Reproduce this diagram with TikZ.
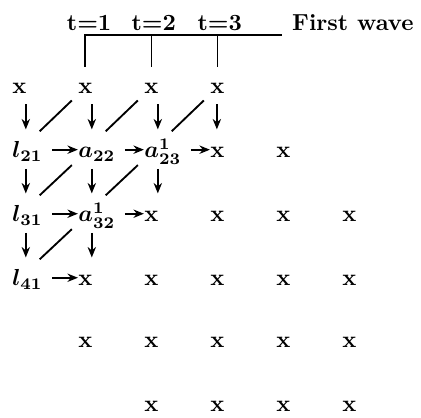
\documentclass[tikz,border=0pt]{standalone}
\usepackage{amsmath}
\usetikzlibrary{arrows.meta}

\begin{document}
\begin{tikzpicture}[
  cell/.style={anchor=base west, inner sep=0pt, text height=9pt, text depth=2.1pt, font=\bfseries\boldmath},
  head/.style={anchor=base, inner sep=0pt, font=\bfseries},
  harrow/.style={-{Stealth[length=4.5pt,width=3.6pt]}, line width=0.8pt, shorten <=4pt},
  varrow/.style={-{Stealth[length=4.5pt,width=3.6pt]}, line width=0.8pt, shorten <=2.5pt, shorten >=3pt},
  diag/.style={line width=0.8pt},
  bar/.style={line width=0.8pt, shorten >=2.2pt},
]
  \useasboundingbox (0,1.409) rectangle (6.378,-4.909);

  % header
  \node[head] (t1) at (1.35,0.954) {t=1};
  \node[head] (t2) at (2.33,0.954) {t=2};
  \node[head] (t3) at (3.33,0.954) {t=3};
  \node[head, anchor=base west] (wave) at (4.42,0.954) {First wave};
  \coordinate (barR) at (4.27,0.88);

  % row 1
  \node[cell] (x11) at (0.18,0) {x};
  \node[cell] (x12) at (1.18,0) {x};
  \node[cell] (x13) at (2.18,0) {x};
  \node[cell] (x14) at (3.18,0) {x};
  % row 2
  \node[cell] (l21) at (0.18,-0.98) {$l_{21}$};
  \node[cell] (a22) at (1.18,-0.98) {$a_{22}$};
  \node[cell] (a23) at (2.18,-0.98) {$a^1_{23}$};
  \node[cell] (x24) at (3.18,-0.98) {x};
  \node[cell] (x25) at (4.18,-0.98) {x};
  % row 3
  \node[cell] (l31) at (0.18,-1.95) {$l_{31}$};
  \node[cell] (a32) at (1.18,-1.95) {$a^1_{32}$};
  \node[cell] (x33) at (2.18,-1.95) {x};
  \node[cell] (x34) at (3.18,-1.95) {x};
  \node[cell] (x35) at (4.18,-1.95) {x};
  \node[cell] (x36) at (5.18,-1.95) {x};
  % row 4
  \node[cell] (l41) at (0.18,-2.92) {$l_{41}$};
  \node[cell] (x42) at (1.18,-2.92) {x};
  \node[cell] (x43) at (2.18,-2.92) {x};
  \node[cell] (x44) at (3.18,-2.92) {x};
  \node[cell] (x45) at (4.18,-2.92) {x};
  \node[cell] (x46) at (5.18,-2.92) {x};
  % row 5
  \node[cell] (x52) at (1.18,-3.86) {x};
  \node[cell] (x53) at (2.18,-3.86) {x};
  \node[cell] (x54) at (3.18,-3.86) {x};
  \node[cell] (x55) at (4.18,-3.86) {x};
  \node[cell] (x56) at (5.18,-3.86) {x};
  % row 6
  \node[cell] (x63) at (2.18,-4.82) {x};
  \node[cell] (x64) at (3.18,-4.82) {x};
  \node[cell] (x65) at (4.18,-4.82) {x};
  \node[cell] (x66) at (5.18,-4.82) {x};

  % wave bracket
  \draw[bar] (barR) -| (x12.north);
  \draw[bar, line width=0.6pt] (x13.north |- barR) -- (x13.north);
  \draw[bar, line width=0.6pt] (x14.north |- barR) -- (x14.north);

  % horizontal arrows
  \draw[harrow] (l21.east) -- (a22.west);
  \draw[harrow] (a22.east) -- (a23.west);
  \draw[harrow] (a23.east) -- (x24.west);
  \draw[harrow] (l31.east) -- (a32.west);
  \draw[harrow] (a32.east) -- (x33.west);
  \draw[harrow] (l41.east) -- (x42.west);

  % vertical arrows
  \draw[varrow] ([xshift=6pt]x11.south west) -- ([xshift=6pt]x11.south west |- l21.north);
  \draw[varrow] ([xshift=6pt]x12.south west) -- ([xshift=6pt]x12.south west |- a22.north);
  \draw[varrow] ([xshift=6pt]x13.south west) -- ([xshift=6pt]x13.south west |- a23.north);
  \draw[varrow] ([xshift=3pt]x14.south west) -- ([xshift=3pt]x14.south west |- x24.north);
  \draw[varrow] ([xshift=6pt]l21.south west) -- ([xshift=6pt]l21.south west |- l31.north);
  \draw[varrow] ([xshift=6pt]a22.south west) -- ([xshift=6pt]a22.south west |- a32.north);
  \draw[varrow] ([xshift=6pt]a23.south west) -- ([xshift=6pt]a23.south west |- x33.north);
  \draw[varrow] ([xshift=6pt]l31.south west) -- ([xshift=6pt]l31.south west |- l41.north);
  \draw[varrow] ([xshift=6pt]a32.south west) -- ([xshift=6pt]a32.south west |- x42.north);

  % diagonals
  \draw[diag] ([shift={(12pt,2.2pt)}]l21.north west) -- ([shift={(-2.6pt,-0.9pt)}]x12.south west);
  \draw[diag] ([shift={(12pt,2.2pt)}]a22.north west) -- ([shift={(-2.6pt,-0.9pt)}]x13.south west);
  \draw[diag] ([shift={(12pt,2.2pt)}]a23.north west) -- ([shift={(-2.6pt,-0.9pt)}]x14.south west);
  \draw[diag] ([shift={(12pt,2.2pt)}]l31.north west) -- ([shift={(-2.6pt,-0.9pt)}]a22.south west);
  \draw[diag] ([shift={(12pt,2.2pt)}]a32.north west) -- ([shift={(-2.6pt,-0.9pt)}]a23.south west);
  \draw[diag] ([shift={(12pt,2.2pt)}]l41.north west) -- ([shift={(-2.6pt,-0.9pt)}]a32.south west);
\end{tikzpicture}
\end{document}
